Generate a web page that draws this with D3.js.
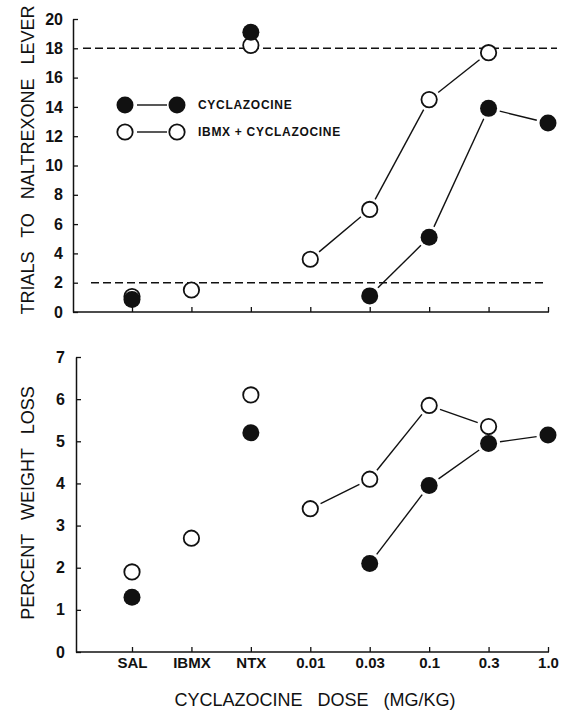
<!DOCTYPE html>
<html>
<head>
<meta charset="utf-8">
<script src="https://cdn.jsdelivr.net/npm/d3@7"></script>
<style>
  body { margin: 0; background: #fff; }
  text { font-family: "Liberation Sans", Arial, sans-serif; fill: #111; }
</style>
</head>
<body>
<div id="chart"></div>
<script>
// categories along the x axis
const doses = ["SAL", "IBMX", "NTX", "0.01", "0.03", "0.1", "0.3", "1.0"];

// top panel: trials to naltrexone lever
const trialsCyc = [
  { dose: "SAL", v: 0.85 }, { dose: "NTX", v: 19.1 },
  { dose: "0.03", v: 1.1 }, { dose: "0.1", v: 5.1 }, { dose: "0.3", v: 13.9 }, { dose: "1.0", v: 12.9 }
];
const trialsIbmx = [
  { dose: "SAL", v: 1.05 }, { dose: "IBMX", v: 1.5 }, { dose: "NTX", v: 18.2 },
  { dose: "0.01", v: 3.6 }, { dose: "0.03", v: 7.0 }, { dose: "0.1", v: 14.5 }, { dose: "0.3", v: 17.7 }
];
const trialsCriteria = [18, 2];
const trialsTicks = [0, 2, 4, 6, 8, 10, 12, 14, 16, 18, 20];

// bottom panel: percent weight loss
const weightCyc = [
  { dose: "SAL", v: 1.3 }, { dose: "NTX", v: 5.2 },
  { dose: "0.03", v: 2.1 }, { dose: "0.1", v: 3.95 }, { dose: "0.3", v: 4.95 }, { dose: "1.0", v: 5.15 }
];
const weightIbmx = [
  { dose: "SAL", v: 1.9 }, { dose: "IBMX", v: 2.7 }, { dose: "NTX", v: 6.1 },
  { dose: "0.01", v: 3.4 }, { dose: "0.03", v: 4.1 }, { dose: "0.1", v: 5.85 }, { dose: "0.3", v: 5.35 }
];
const weightTicks = [0, 1, 2, 3, 4, 5, 6, 7];

// dose points that are joined by lines
const curveDoses = ["0.01", "0.03", "0.1", "0.3", "1.0"];

const W = 562, H = 713;
const R = 8.5;

const svg = d3.select("#chart")
  .append("svg")
  .attr("width", W)
  .attr("height", H);

const x = d3.scalePoint()
  .domain(doses)
  .range([132, 548]);

// draw a line between consecutive points, leaving a gap at each circle
function connect(g, data, y) {
  const pts = data.filter(d => curveDoses.includes(d.dose))
    .map(d => [x(d.dose), y(d.v)]);
  for (let i = 0; i < pts.length - 1; i++) {
    const [x1, y1] = pts[i], [x2, y2] = pts[i + 1];
    const len = Math.hypot(x2 - x1, y2 - y1);
    const gap = R + 3;
    const ux = (x2 - x1) / len, uy = (y2 - y1) / len;
    g.append("line")
      .attr("x1", x1 + ux * gap).attr("y1", y1 + uy * gap)
      .attr("x2", x2 - ux * gap).attr("y2", y2 - uy * gap)
      .attr("stroke", "#111")
      .attr("stroke-width", 1.4);
  }
}

function dots(g, data, y, filled) {
  g.selectAll(null)
    .data(data)
    .join("circle")
    .attr("cx", d => x(d.dose))
    .attr("cy", d => y(d.v))
    .attr("r", filled ? R : R - 0.8)
    .attr("fill", filled ? "#111" : "#fff")
    .attr("stroke", "#111")
    .attr("stroke-width", filled ? 0 : 1.8);
}

function panel(opts) {
  const g = svg.append("g");
  const y = d3.scaleLinear().domain(opts.domain).range(opts.range);

  // y axis, ticks pointing inward
  const yAxis = g.append("g")
    .attr("transform", `translate(${opts.left},0)`)
    .call(d3.axisLeft(y).tickValues(opts.ticks).tickFormat(d3.format("d"))
      .tickSizeInner(-5).tickSizeOuter(0).tickPadding(opts.pad));
  yAxis.select(".domain").attr("stroke", "#111").attr("stroke-width", 1.5);
  yAxis.selectAll(".tick line").attr("stroke", "#111").attr("stroke-width", 1.3);
  yAxis.selectAll(".tick text")
    .style("font-size", "16px")
    .style("font-weight", "bold")
    .attr("fill", "#111");

  // x axis
  const xAxis = g.append("g")
    .attr("transform", `translate(0,${opts.range[0]})`)
    .call(d3.axisBottom(x).tickSizeInner(-5).tickSizeOuter(0).tickFormat(opts.labels ? null : ""));
  xAxis.select(".domain").remove();
  xAxis.selectAll(".tick line").attr("stroke", "#111").attr("stroke-width", 1.3);
  g.append("line")
    .attr("x1", opts.left).attr("x2", x.range()[1] + 1)
    .attr("y1", opts.range[0]).attr("y2", opts.range[0])
    .attr("stroke", "#111").attr("stroke-width", 1.5);
  if (opts.labels) {
    xAxis.selectAll(".tick text")
      .attr("y", 5)
      .style("font-size", "15px")
      .style("font-weight", "bold")
      .attr("fill", "#111");
  }

  // y title
  g.append("text")
    .attr("transform", `translate(34,${opts.titleY}) rotate(-90)`)
    .attr("text-anchor", "middle")
    .style("font-size", "18px")
    .style("word-spacing", "9px")
    .text(opts.title);

  return { g, y };
}

// ---- top panel
const topPanel = panel({
  domain: [0, 20], range: [312, 19], left: 73, pad: 10, ticks: trialsTicks,
  title: "TRIALS TO NALTREXONE LEVER", titleY: 160, labels: false
});

// criterion lines
topPanel.g.selectAll(null)
  .data(trialsCriteria)
  .join("line")
  .attr("x1", (d, i) => i === 0 ? 83 : 91)
  .attr("x2", (d, i) => i === 0 ? 557 : 543)
  .attr("y1", d => topPanel.y(d))
  .attr("y2", d => topPanel.y(d))
  .attr("stroke", "#111")
  .attr("stroke-width", 1.4)
  .attr("stroke-dasharray", "8,4");

connect(topPanel.g, trialsIbmx, topPanel.y);
connect(topPanel.g, trialsCyc, topPanel.y);
dots(topPanel.g, trialsIbmx, topPanel.y, false);
dots(topPanel.g, trialsCyc, topPanel.y, true);

// legend
const legendItems = [
  { label: "CYCLAZOCINE", filled: true },
  { label: "IBMX + CYCLAZOCINE", filled: false }
];
const legend = topPanel.g.append("g").attr("transform", "translate(125,105)");
legendItems.forEach((item, i) => {
  const row = legend.append("g").attr("transform", `translate(0,${i * 27})`);
  row.append("line")
    .attr("x1", 12).attr("x2", 42)
    .attr("stroke", "#111").attr("stroke-width", 1.4);
  [0, 52].forEach(cx => {
    row.append("circle")
      .attr("cx", cx).attr("r", item.filled ? R : R - 0.8)
      .attr("fill", item.filled ? "#111" : "#fff")
      .attr("stroke", "#111")
      .attr("stroke-width", item.filled ? 0 : 1.8);
  });
  row.append("text")
    .attr("x", 73)
    .attr("dy", "0.36em")
    .style("font-size", "12px")
    .style("font-weight", "bold")
    .style("letter-spacing", "0.7px")
    .text(item.label);
});

// ---- bottom panel
const bottomPanel = panel({
  domain: [0, 7], range: [652, 357], left: 76, pad: 11, ticks: weightTicks,
  title: "PERCENT WEIGHT LOSS", titleY: 503, labels: true
});

connect(bottomPanel.g, weightIbmx, bottomPanel.y);
connect(bottomPanel.g, weightCyc, bottomPanel.y);
dots(bottomPanel.g, weightIbmx, bottomPanel.y, false);
dots(bottomPanel.g, weightCyc, bottomPanel.y, true);

// x title
svg.append("text")
  .attr("x", 315)
  .attr("y", 706)
  .attr("text-anchor", "middle")
  .style("font-size", "18px")
  .style("word-spacing", "10px")
  .text("CYCLAZOCINE DOSE (MG/KG)");
</script>
</body>
</html>
